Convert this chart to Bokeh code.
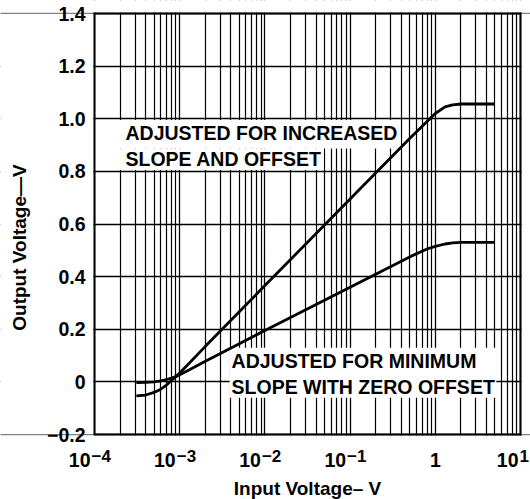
import math
from bokeh.plotting import figure
from bokeh.models import FixedTicker, Label, BoxAnnotation
from bokeh.embed import file_html
from bokeh.resources import INLINE

# ---- data ----
x_increased = [3.1e-4, 4e-4, 5e-4, 6e-4, 7e-4, 8e-4, 9e-4, 1e-3, 1.3e-3, 2e-3,
               1e-2, 1e-1, 0.5, 0.8, 1.0, 1.3, 1.6, 2.0, 3.0, 5.0]
y_increased = [-0.053, -0.05, -0.04, -0.028, -0.012, 0.005, 0.02, 0.034, 0.072, 0.135,
               0.366, 0.695, 0.925, 0.99, 1.02, 1.045, 1.053, 1.056, 1.056, 1.056]

x_minimum = [3.1e-4, 4e-4, 5e-4, 6e-4, 7e-4, 8e-4, 9e-4, 1e-3, 1.3e-3, 2e-3,
             1e-2, 1e-1, 0.5, 0.8, 1.0, 1.3, 1.6, 2.0, 3.0, 5.0]
y_minimum = [-0.003, -0.002, 0.0, 0.004, 0.009, 0.014, 0.02, 0.027, 0.046, 0.078,
             0.195, 0.36, 0.475, 0.505, 0.515, 0.524, 0.528, 0.53, 0.53, 0.53]

x_ticks = [1e-4, 1e-3, 1e-2, 1e-1, 1, 10]
x_tick_base = ["10", "10", "10", "10", "1", "10"]
x_tick_exp = ["\u22124", "\u22123", "\u22122", "\u22121", "", "1"]

y_ticks = [-0.2, 0.0, 0.2, 0.4, 0.6, 0.8, 1.0, 1.2, 1.4]
y_tick_labels = ["\u22120.2", "0", "0.2", "0.4", "0.6", "0.8", "1.0", "1.2", "1.4"]

x_title = "Input Voltage\u2013 V"
y_title = "Output Voltage\u2014V"
label_increased = ["ADJUSTED FOR INCREASED", "SLOPE AND OFFSET"]
label_minimum = ["ADJUSTED FOR MINIMUM", "SLOPE WITH ZERO OFFSET"]

FONT = "Liberation Sans"

# ---- layout (pixels) ----
W, H = 530, 499
FL, FR, FT, FB = 94, 520, 13, 434      # where the axes box sits on the page
XA, XB = x_ticks[0], x_ticks[-1]
Y0, Y1 = y_ticks[0], y_ticks[-1]
ppd = (FR - FL) / 5.0                  # pixels per decade
ppu = (FB - FT) / (Y1 - Y0)            # pixels per volt
x_start = 10 ** (math.log10(XA) - FL / ppd)
x_end = 10 ** (math.log10(XB) + (W - FR) / ppd)
y_start = Y0 - (H - FB) / ppu
y_end = Y1 + FT / ppu

def ypix(py):
    """data y for a page pixel row (layout helper for texts)"""
    return Y1 - (py - FT) / ppu

def xshift(x, px):
    """data x shifted by px pixels on the log axis (layout helper)"""
    return 10 ** (math.log10(x) + px / ppd)

p = figure(width=W, height=H, x_axis_type="log",
           x_range=(x_start, x_end), y_range=(y_start, y_end),
           output_backend="svg", toolbar_location=None,
           min_border_left=0, min_border_right=0, min_border_top=0,
           min_border_bottom=0)
p.title.visible = False
p.background_fill_color = "white"
p.border_fill_color = "white"
p.outline_line_color = None
p.xaxis.visible = False
p.yaxis.visible = False

# grid
minors = []
for d in x_ticks[:-1]:
    minors += [d * k for k in range(2, 10)]
p.xgrid.ticker = FixedTicker(ticks=x_ticks, minor_ticks=minors)
p.xgrid.grid_line_color = "black"
p.xgrid.grid_line_width = 1.3
p.xgrid.minor_grid_line_color = "black"
p.xgrid.minor_grid_line_width = 1.2
p.ygrid.ticker = FixedTicker(ticks=y_ticks)
p.ygrid.grid_line_color = "black"
p.ygrid.grid_line_width = 1.6

# white covers: outside the axes box (kept 1px clear of its edges),
# and behind the annotation texts
g = 1.0
covers = [(x_start, x_end, y_start, Y0 - g / ppu),
          (x_start, x_end, Y1 + g / ppu, y_end),
          (x_start, xshift(XA, -g), Y0, Y1),
          (xshift(XB, g), x_end, Y0, Y1),
          (XA, 0.39, 0.887, 0.995), (XA, 0.049, 0.805, 0.887),
          (0.00385, 5.2, -0.06, 0.13)]
for l, r, b, t in covers:
    p.add_layout(BoxAnnotation(left=l, right=r, bottom=b, top=t,
                               fill_color="white", fill_alpha=1.0,
                               line_color=None, level="underlay"))

# axes box outline (through the plot's own scales)
p.line([XA, XB, XB, XA, XA], [Y0, Y0, Y1, Y1, Y0],
       line_color="black", line_width=2.0, line_join="miter")

# curves
p.line(x_increased, y_increased, line_color="black", line_width=2.8)
p.line(x_minimum, y_minimum, line_color="black", line_width=2.8)

def text(x, y, s, size, align="left", dx=0, angle=0.0):
    p.add_layout(Label(x=x, y=y, x_offset=dx, text=s, text_font=FONT,
                       text_font_style="bold", text_font_size=size,
                       text_color="black", text_align=align,
                       text_baseline="middle", angle=angle))

# annotation texts (anchored at the middle of the capitals)
for s, x, py in [(label_increased[0], 2.31e-4, 132),
                 (label_increased[1], 2.31e-4, 158),
                 (label_minimum[0], 4.06e-3, 360),
                 (label_minimum[1], 4.06e-3, 386.5)]:
    text(x, ypix(py), s, "19.5px")

# y tick labels
for t, s in zip(y_ticks, y_tick_labels):
    text(XA, t, s, "19.5px", align="right", dx=-9)

# y axis title (reads upward)
text(XA, ypix(247), y_title, "19px", align="center", dx=-(FL - 18.5),
     angle=math.pi / 2)

# x tick labels (base + raised exponent)
n = len(x_ticks)
for i, (t, b, e) in enumerate(zip(x_ticks, x_tick_base, x_tick_exp)):
    if e == "":
        text(t, ypix(459.5), b, "19.5px", align="center")
        continue
    dx = -4 if i < n - 1 else -2
    text(t, ypix(459.5), b, "19.5px", align="right", dx=dx)
    text(t, ypix(455.5), e, "17px", align="left", dx=dx + 1)

# x axis title, centred under the axes box
text((XA * XB) ** 0.5, ypix(487.5), x_title, "19px", align="center")

open("out.html", "w").write(file_html(p, INLINE))
